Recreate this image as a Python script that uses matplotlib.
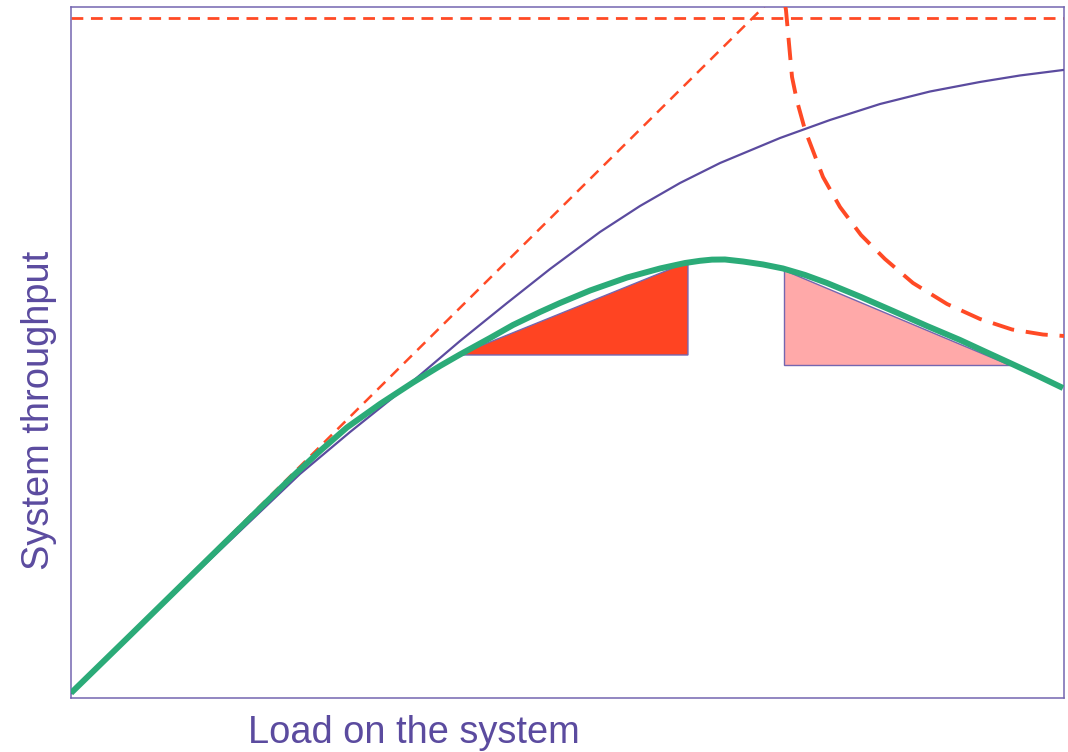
import matplotlib
matplotlib.use("Agg")
import matplotlib.pyplot as plt

plt.rcParams['font.family'] = ['Liberation Sans', 'DejaVu Sans']
plt.rcParams['lines.scale_dashes'] = False

# values (load 0..100, throughput 0..100)
ideal_load = [0, 72]
ideal_thr = [0.7, 103.2]

ceiling_thr = 98.4

hyper_load = [71.90, 72.00, 72.61, 73.11, 73.92, 75.73, 77.44, 79.56, 81.97, 84.79,
              88.22, 91.54, 94.76, 97.89, 100.0]
hyper_thr = [100.43, 99.57, 89.87, 86.40, 82.20, 75.40, 71.06, 67.00, 63.53, 60.06,
             57.02, 54.85, 53.33, 52.60, 52.39]

amdahl_load = [0, 12.99, 23.06, 28.10, 32.13, 35.15, 39.17, 43.91, 48.24, 53.27,
               57.30, 61.33, 65.36, 71.40, 76.44, 81.47, 86.50, 91.54, 95.57, 99.9]
amdahl_thr = [0.72, 18.67, 32.42, 38.49, 43.13, 46.74, 51.66, 57.16, 62.08, 67.44,
              71.20, 74.53, 77.42, 81.04, 83.65, 85.96, 87.77, 89.15, 90.09, 90.88]

usl_load = [0, 5.94, 12.99, 18.03, 22.36, 25.08, 27.79, 31.12, 34.44, 37.16, 39.17,
            42.20, 44.51, 47.23, 49.24, 52.27, 55.99, 59.32, 61.83, 63.34, 64.55,
            65.86, 67.67, 69.69, 71.70, 73.92, 76.13, 79.56, 82.78, 86.20, 89.53,
            92.04, 94.56, 97.28, 99.9]
usl_thr = [0.72, 9.04, 18.96, 26.05, 32.13, 35.75, 39.15, 42.55, 45.66, 48.05, 49.71,
           52.10, 53.98, 55.86, 57.16, 58.97, 60.85, 62.16, 62.95, 63.27, 63.44,
           63.46, 63.17, 62.74, 62.16, 61.22, 60.06, 58.03, 56.01, 53.84, 51.81,
           50.14, 48.48, 46.67, 44.86]

gain_load = [38.97, 62.13, 62.13]
gain_thr = [49.64, 63.10, 49.64]

loss_load = [71.80, 71.80, 94.56]
loss_thr = [61.94, 48.19, 48.19]

purple = '#5b4b9f'
frame = '#7466b0'
red = '#ff4a25'

fig = plt.figure(figsize=(10.68, 7.52), dpi=100)
ax = fig.add_axes([71 / 1068, 1 - 698 / 752, 993 / 1068, 691 / 752])
ax.set_xlim(0, 100)
ax.set_ylim(0, 100)
ax.set_xticks([])
ax.set_yticks([])
for s in ax.spines.values():
    s.set_color(frame)
    s.set_linewidth(1.1)

ax.axhline(ceiling_thr, color=red, lw=2.0, dashes=(8.5, 5.5), zorder=2)
ax.plot(ideal_load, ideal_thr, color=red, lw=1.8, dashes=(8, 5.5), zorder=2)
ax.plot(amdahl_load, amdahl_thr, color=purple, lw=1.6, zorder=3,
        solid_joinstyle='round')
ax.plot(hyper_load, hyper_thr, color=red, lw=2.8, dashes=(16, 8.5), zorder=4)

ax.fill(gain_load, gain_thr, facecolor='#ff4422', edgecolor=frame, lw=1.0, zorder=4)
ax.fill(loss_load, loss_thr, facecolor='#ffa9a9', edgecolor=frame, lw=1.0, zorder=4)

ax.plot(usl_load, usl_thr, color='#2bab78', lw=4.3, solid_capstyle='butt',
        solid_joinstyle='round', zorder=5)

fig.text(414 / 1068, 1 - 743 / 752, 'Load on the system', color=purple,
         fontsize=27.4, ha='center', va='baseline')
fig.text(39.5 / 1068, 1 - 410 / 752, 'System throughput', color=purple,
         fontsize=27.4, ha='center', va='center', rotation=90)

fig.savefig('out.png', dpi=100)
